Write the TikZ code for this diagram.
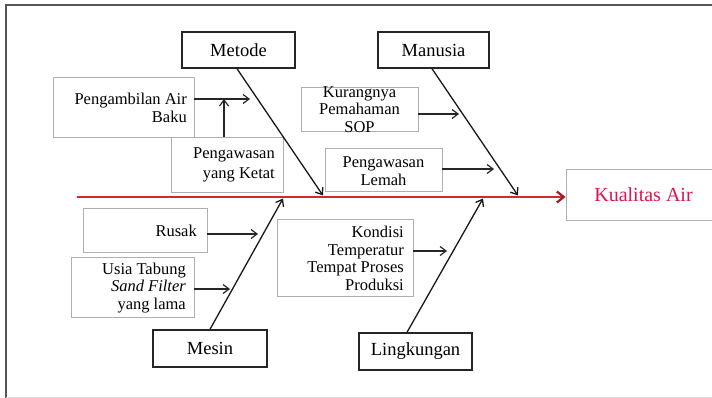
\documentclass[tikz,border=0pt]{standalone}
\usepackage{fontspec}
\setmainfont{Liberation Serif}
\usetikzlibrary{arrows.meta}
\definecolor{spinered}{RGB}{214,38,48}
\definecolor{tipred}{RGB}{160,30,40}
\definecolor{titlered}{RGB}{220,20,80}
\definecolor{framegray}{RGB}{85,85,85}
\definecolor{subgray}{RGB}{175,175,175}
\tikzset{
  x=1pt, y=-1pt,
  mainbox/.style={draw=black!85, line width=1.4pt, fill=white, inner sep=0pt,
    font=\fontsize{18.5}{20}\selectfont},
  subbox/.style={draw=subgray, line width=0.8pt, fill=white, inner sep=0pt},
  subtext/.style={inner sep=0pt, font=\fontsize{16.5}{17.7}\selectfont},
  bone/.style={draw=black!90, line width=1.3pt, -{Straight Barb[length=6pt,width=9pt]}},
  cause/.style={draw=black!85, line width=1.2pt, -{Straight Barb[length=6pt,width=9pt]}},
}
\begin{document}
\begin{tikzpicture}
\useasboundingbox (0,0) rectangle (712,398);
\clip (0,0) rectangle (712,398);
\fill[white] (0,0) rectangle (712,398);

% outer frame
\draw[framegray, line width=2pt] (6,398) -- (6,5) -- (712,5);
\draw[black!12, line width=0.8pt] (6,397) -- (712,397);

% effect box
\node[draw=subgray, line width=0.8pt, fill=white, minimum width=155pt, minimum height=51pt,
      text=titlered, font=\fontsize{20}{22}\selectfont] (effect) at (643.5,194.5) {Kualitas Air};

% category boxes
\node[mainbox, minimum width=113pt, minimum height=36pt] (metode) at (238.5,50) {Metode};
\node[mainbox, minimum width=111pt, minimum height=36pt] (manusia) at (433.5,50) {Manusia};
\node[mainbox, minimum width=114pt, minimum height=37pt] (mesin) at (210,348.5) {Mesin};
\node[mainbox, minimum width=113pt, minimum height=37pt] (lingkungan) at (415.5,351.5) {Lingkungan};

% cause boxes
\node[subbox, minimum width=141pt, minimum height=60pt] (ambil) at (123.5,107) {};
\node[subtext, anchor=east, align=right] (ambilT) at (187,108) {Pengambilan Air\\Baku};
\node[subbox, minimum width=112pt, minimum height=55pt] (ketat) at (227,164.5) {};
\node[subtext, anchor=east, align=right, font=\fontsize{16.5}{20}\selectfont] (ketatT) at (275,165) {Pengawasan\\yang Ketat};
\node[subbox, minimum width=117pt, minimum height=44pt] (sop) at (359.5,109) {};
\node[subtext, align=center] (sopT) at (359.5,109.5) {Kurangnya\\Pemahaman\\SOP};
\node[subbox, minimum width=117pt, minimum height=43pt] (lemah) at (383.5,169.5) {};
\node[subtext, align=center] (lemahT) at (383.5,171.5) {Pengawasan\\Lemah};
\node[subbox, minimum width=124pt, minimum height=44pt] (rusak) at (145,230) {};
\node[subtext, anchor=east] (rusakT) at (197,231) {Rusak};
\node[subbox, minimum width=123pt, minimum height=60pt] (usia) at (132.5,287) {};
\node[subtext, anchor=east, align=right] (usiaT) at (186,288) {Usia Tabung\\\textit{Sand Filter}\\yang lama};
\node[subbox, minimum width=136pt, minimum height=77pt] (kondisi) at (345,257.5) {};
\node[subtext, anchor=east, align=right] (kondisiT) at (404,258.5) {Kondisi\\Temperatur\\Tempat Proses\\Produksi};

% spine
\coordinate (tail) at (77,197);
\draw[spinered, line width=2.2pt, -{Straight Barb[length=7pt,width=11pt,color=tipred]}] (tail) -- (effect.west |- tail);

% bones
\coordinate (jm) at (323,195.5);
\coordinate (jn) at (518,195.5);
\coordinate (js) at (283,198.5);
\coordinate (jl) at (483,198.5);
\draw[bone] ([xshift=-1.5pt]metode.south) -- (jm);
\draw[bone] ([xshift=-1.5pt]manusia.south) -- (jn);
\draw[bone] (mesin.north) -- (js);
\draw[bone] ([xshift=-8.5pt]lingkungan.north) -- (jl);

% causes
\coordinate (a1) at (250,99);
\coordinate (a2) at (459,114);
\coordinate (a3) at (494,169);
\coordinate (a4) at (258,234);
\coordinate (a5) at (230,289);
\coordinate (a6) at (447,251);
\coordinate (a7) at (224,99);
\draw[cause] (ambil.east |- a1) -- (a1);
\draw[cause] (ketat.north -| a7) -- (a7);
\draw[cause] (sop.east |- a2) -- (a2);
\draw[cause] (lemah.east |- a3) -- (a3);
\draw[cause] (rusak.east |- a4) -- (a4);
\draw[cause] (usia.east |- a5) -- (a5);
\draw[cause] (kondisi.east |- a6) -- (a6);
\end{tikzpicture}
\end{document}
